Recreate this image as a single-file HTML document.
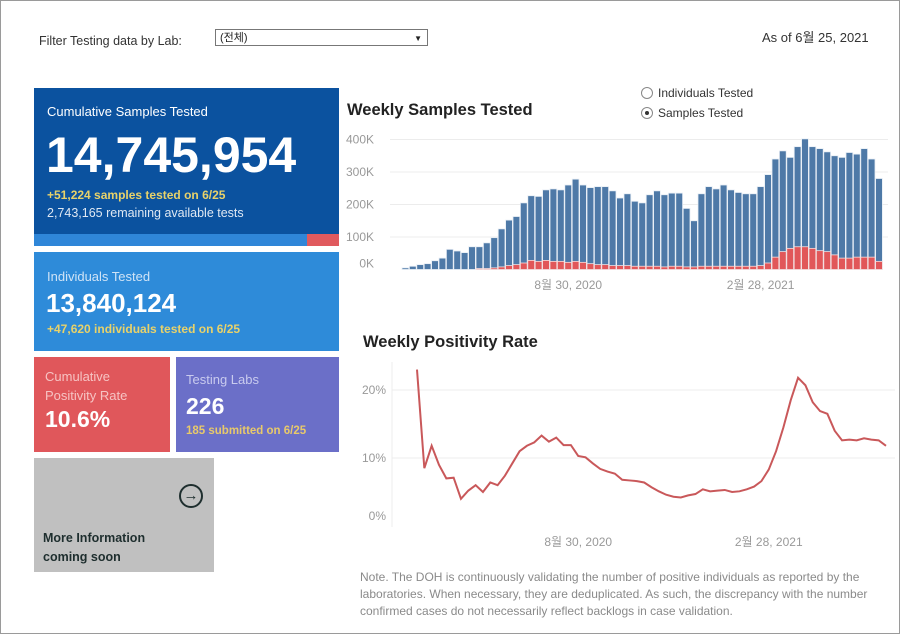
<!DOCTYPE html>
<html><head><meta charset="utf-8"><style>
body{margin:0;width:900px;height:634px;overflow:hidden;background:#fff;font-family:"Liberation Sans","Noto Sans CJK KR",sans-serif;position:relative}
.frame{position:absolute;left:0;top:0;width:898px;height:632px;border:1px solid #9a9a9a}
.a{position:absolute}
.tile{position:absolute;color:#fff}
</style></head><body>
<div class="frame"></div>
<div class="a" style="left:39px;top:34px;font-size:12.5px;color:#333">Filter Testing data by Lab:</div>
<div class="a" style="left:215px;top:29px;height:17px;border:1px solid #777;font-size:11px;color:#222;line-height:17px;padding-left:4px;box-sizing:border-box;width:213px">(전체)<span style="position:absolute;right:5px;top:0;font-size:8px">▼</span></div>
<div class="a" style="left:762px;top:27px;font-size:13px;color:#333">As of 6월 25, 2021</div>

<div class="tile" style="left:34px;top:88px;width:305px;height:146px;background:#0b529f">
 <div class="a" style="left:13px;top:16px;font-size:13px">Cumulative Samples Tested</div>
 <div class="a" style="left:12px;top:38px;font-size:50px;font-weight:bold">14,745,954</div>
 <div class="a" style="left:13px;top:100px;font-size:12px;font-weight:bold;color:#e8d26a">+51,224 samples tested on 6/25</div>
 <div class="a" style="left:13px;top:118px;font-size:12.5px;color:#dfe8f3">2,743,165 remaining available tests</div>
</div>
<div class="a" style="left:34px;top:234px;width:273px;height:12px;background:#2f86d8"></div>
<div class="a" style="left:307px;top:234px;width:32px;height:12px;background:#e05a5e"></div>

<div class="tile" style="left:34px;top:252px;width:305px;height:99px;background:#2e8bd9">
 <div class="a" style="left:13px;top:17px;font-size:13px;color:#cfe3f6">Individuals Tested</div>
 <div class="a" style="left:12px;top:36px;font-size:26px;font-weight:bold">13,840,124</div>
 <div class="a" style="left:13px;top:70px;font-size:12px;font-weight:bold;color:#e8d26a">+47,620 individuals tested on 6/25</div>
</div>

<div class="tile" style="left:34px;top:357px;width:136px;height:95px;background:#e0575b">
 <div class="a" style="left:11px;top:10px;font-size:13px;line-height:19px;color:#f6c3c3">Cumulative<br>Positivity Rate</div>
 <div class="a" style="left:11px;top:49px;font-size:23px;font-weight:bold">10.6%</div>
</div>
<div class="tile" style="left:176px;top:357px;width:163px;height:95px;background:#6b6fc8">
 <div class="a" style="left:10px;top:15px;font-size:13px;color:#c9cbee">Testing Labs</div>
 <div class="a" style="left:10px;top:36px;font-size:23px;font-weight:bold">226</div>
 <div class="a" style="left:10px;top:68px;font-size:11.5px;font-weight:bold;color:#e8c96a">185 submitted on 6/25</div>
</div>
<div class="tile" style="left:34px;top:458px;width:180px;height:114px;background:#c0c0c0;color:#222">
 <div class="a" style="left:145px;top:26px;width:20px;height:20px;border:2px solid #1e2e2e;border-radius:50%;text-align:center;line-height:20px;font-size:15px;font-weight:bold;color:#1e2e2e">→</div>
 <div class="a" style="left:9px;top:71px;font-size:12.5px;font-weight:bold;line-height:19px;color:#1e2e2e">More Information<br>coming soon</div>
</div>

<div class="a" style="left:347px;top:101px;font-size:16.5px;font-weight:bold;color:#222">Weekly Samples Tested</div>
<div class="a" style="left:641px;top:86px;font-size:12px;color:#333"><span style="display:inline-block;width:10px;height:10px;border:1px solid #888;border-radius:50%;vertical-align:-2px;margin-right:5px"></span>Individuals Tested</div>
<div class="a" style="left:641px;top:106px;font-size:12px;color:#333"><span style="display:inline-block;width:10px;height:10px;border:1px solid #888;border-radius:50%;vertical-align:-2px;margin-right:5px;position:relative"><span style="position:absolute;left:3px;top:3px;width:4px;height:4px;border-radius:50%;background:#333"></span></span>Samples Tested</div>
<div class="a" style="left:363px;top:333px;font-size:16.5px;font-weight:bold;color:#222">Weekly Positivity Rate</div>
<div class="a" style="left:360px;top:569px;width:540px;font-size:12px;line-height:17px;color:#8a8a8a;white-space:nowrap">Note. The DOH is continuously validating the number of positive individuals as reported by the<br>laboratories. When necessary, they are deduplicated. As such, the discrepancy with the number<br>confirmed cases do not necessarily reflect backlogs in case validation.</div>

<svg class="a" id="charts" style="left:0;top:0" width="900" height="634"></svg>
<script>
const weeks = 65;
const samples = [5,10,15,18,27,35,62,57,52,70,70,82,98,125,152,163,205,227,225,245,248,245,260,278,260,252,255,255,242,220,233,210,205,230,242,230,235,235,188,150,233,255,248,260,245,237,233,233,255,292,340,365,345,378,402,378,372,362,350,345,360,355,372,340,280];
const positives = [0,0,0,0,0,0,0,0,0,0,3,3,5,8,12,15,20,28,25,28,25,25,22,25,22,18,15,15,12,12,12,10,10,10,10,8,10,10,8,8,10,10,10,10,10,10,10,10,12,20,38,55,65,70,70,65,58,55,45,35,35,38,38,38,25];
const positivity = [23,8.5,11.8,9,7,7.1,4,5.2,6,5,6.4,6,7.4,9.2,11,11.8,12.3,13.3,12.4,13,11.9,11.9,10.3,10.1,9.2,8.4,8,7.7,6.8,6.7,6.6,6.4,5.7,5.1,4.6,4.3,4.2,4.5,4.7,5.4,5.1,5.2,5.3,5,5.1,5.4,5.8,6.6,8.3,11,14.5,18.5,21.8,20.7,18.2,16.9,16.5,14,12.6,12.7,12.6,12.9,12.7,12.6,11.8];
const barTicks = [0,100,200,300,400];
const barTickLabels = ["0K","100K","200K","300K","400K"];
const lineTicks = [0,10,20];
const lineTickLabels = ["0%","10%","20%"];
const dateLabels = ["8월 30, 2020","2월 28, 2021"];
const dateIndex = [22,48];

const svg = document.getElementById('charts');
const NS = 'http://www.w3.org/2000/svg';
function mk(t, at){const e=document.createElementNS(NS,t);for(const k in at)e.setAttribute(k,at[k]);svg.appendChild(e);return e;}
const bx = i => 402 + i*(481/weeks);
const bw = 481/weeks - 0.6;
const by = v => 269.5 - v*0.325;
const lx = i => 417 + i*(886-417)/(positivity.length-1);
const ly = v => 526 - v*6.8;

barTicks.forEach((t,k)=>{
  if(t>0){const g=mk('line',{x1:390,x2:888,y1:by(t),y2:by(t),stroke:'#ececec'});
  
  }
  const tx=mk('text',{x:374,y:(t===0?by(t)-6:by(t))+4,'text-anchor':'end','font-size':'12',fill:'#999','font-family':'Liberation Sans, sans-serif'});
  tx.textContent=barTickLabels[k];
  
  
});
samples.forEach((v,i)=>{
  const r=mk('rect',{x:bx(i),y:by(v),width:bw,height:by(0)-by(v),fill:'#4e79a7',stroke:'#e8eef5','stroke-width':'0.8'});
  
  
  const p=positives[i];
  if(p>0){const q=mk('rect',{x:bx(i),y:by(p),width:bw,height:by(0)-by(p),fill:'#e15759',stroke:'#f3dede','stroke-width':'0.8'});
  
  }
});
dateLabels.forEach((d,k)=>{
  const t=mk('text',{x:bx(dateIndex[k])+bw/2,y:289,'text-anchor':'middle','font-size':'12',fill:'#999','font-family':'Liberation Sans, Noto Sans CJK KR, sans-serif'});
  t.textContent=d;
  
  
  const t2=mk('text',{x:lx(dateIndex[k]),y:546,'text-anchor':'middle','font-size':'12',fill:'#999','font-family':'Liberation Sans, Noto Sans CJK KR, sans-serif'});
  t2.textContent=d;
  
  
});
const ax=mk('line',{x1:392,x2:392,y1:362,y2:527,stroke:'#eee'});


lineTicks.forEach((t,k)=>{
  if(t>0){const g=mk('line',{x1:392,x2:895,y1:ly(t),y2:ly(t),stroke:'#ececec'});
  
  }
  const tx=mk('text',{x:386,y:(t===0?ly(t)-10:ly(t))+4,'text-anchor':'end','font-size':'12',fill:'#999','font-family':'Liberation Sans, sans-serif'});
  tx.textContent=lineTickLabels[k];
  
  
});
const path=mk('polyline',{points:positivity.map((v,i)=>lx(i)+','+ly(v)).join(' '),fill:'none',stroke:'#c9585a','stroke-width':'2'});


</script>
</body></html>
